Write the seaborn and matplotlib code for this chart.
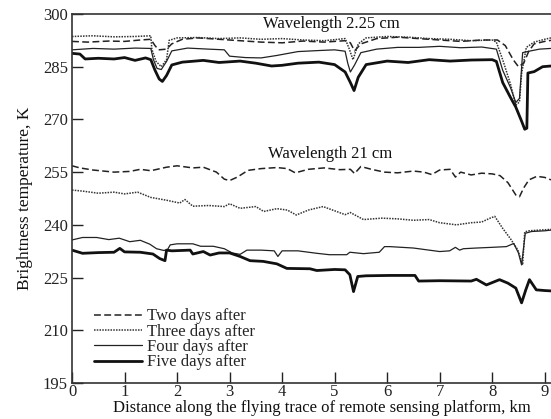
import matplotlib
matplotlib.use("Agg")
import matplotlib.pyplot as plt
import seaborn as sns
import pandas as pd

# ---- brightness temperature traces, wavelength 2.25 cm ----
two_225_x = [0, 0.3, 0.7, 1.0, 1.3, 1.5, 1.58, 1.65, 1.8, 1.9, 2.1, 2.4, 2.8, 3.2, 3.6, 4.0, 4.4,
             4.8, 5.2, 5.3, 5.38, 5.5, 5.8, 6.2, 6.6, 7.0, 7.4, 7.8, 8.1, 8.25, 8.4, 8.5, 8.6,
             8.7, 8.8, 9.0, 9.12]
two_225_y = [292.2, 292.0, 292.3, 292.2, 292.6, 292.8, 291.0, 289.8, 290.0, 291.5, 292.8, 293.2,
             292.8, 292.4, 292.0, 291.8, 292.3, 292.0, 292.4, 291.8, 289.5, 291.5, 293.0, 293.4,
             293.0, 292.6, 292.2, 292.6, 292.6, 291.0, 287.0, 285.0, 286.0, 289.5, 291.5, 292.2,
             292.5]

three_225_x = [0, 0.4, 0.8, 1.2, 1.5, 1.52, 1.6, 1.7, 1.8, 1.85, 2.0, 2.4, 2.8, 3.2, 3.6, 4.0,
               4.4, 4.8, 5.2, 5.28, 5.35, 5.45, 5.6, 6.0, 6.4, 6.8, 7.2, 7.6, 8.0, 8.08, 8.2,
               8.35, 8.45, 8.52, 8.56, 8.65, 8.8, 9.0, 9.12]
three_225_y = [293.6, 293.8, 293.5, 293.6, 293.8, 290.0, 286.5, 285.0, 287.0, 292.5, 293.2, 293.3,
               293.0, 293.2, 292.8, 293.0, 292.6, 292.4, 293.0, 290.0, 287.0, 291.5, 293.2, 293.6,
               293.4, 293.0, 292.8, 292.4, 292.6, 292.0, 287.0, 280.0, 274.0, 275.0, 283.0,
               290.5, 292.0, 292.8, 293.2]

four_225_x = [0, 0.4, 0.8, 1.2, 1.5, 1.55, 1.62, 1.7, 1.8, 1.9, 2.2, 2.6, 2.9, 3.0, 3.3, 3.6,
              3.9, 4.3, 4.7, 5.0, 5.2, 5.25, 5.3, 5.38, 5.5, 5.8, 6.2, 6.6, 7.0, 7.4, 7.8, 8.08,
              8.2, 8.35, 8.45, 8.52, 8.58, 8.7, 8.9, 9.12]
four_225_y = [289.8, 290.2, 290.0, 290.3, 290.2, 287.0, 284.5, 284.2, 286.5, 289.5, 290.3, 290.0,
              289.8, 288.0, 287.6, 287.5, 288.2, 289.3, 289.6, 289.8, 289.4, 286.0, 283.5, 285.5,
              289.0, 290.0, 290.5, 290.5, 290.8, 290.4, 290.6, 290.0, 284.0, 279.0, 274.8,
              276.0, 289.0, 289.4, 290.0, 290.2]

five_225_x = [0, 0.15, 0.25, 0.5, 0.8, 1.0, 1.2, 1.4, 1.5, 1.58, 1.66, 1.72, 1.8, 1.9, 2.1,
              2.5, 2.8, 3.2, 3.5, 3.8, 4.0, 4.3, 4.7, 5.0, 5.2, 5.3, 5.37, 5.45, 5.6, 6.0, 6.4,
              6.8, 7.2, 7.6, 8.0, 8.08, 8.2, 8.34, 8.45, 8.56, 8.62, 8.66, 8.68, 8.8, 8.96, 9.12]
five_225_y = [288.8, 288.6, 287.2, 287.4, 287.2, 287.6, 286.8, 287.5, 287.0, 284.0, 281.5, 280.8,
              282.5, 285.5, 286.3, 286.8, 286.2, 286.6, 286.0, 285.2, 285.4, 286.0, 286.3, 285.6,
              283.5, 280.5, 278.2, 282.0, 285.6, 286.6, 286.2, 287.0, 286.6, 286.9, 287.0,
              286.5, 280.5, 276.5, 273.5, 269.5, 267.2, 267.5, 283.2, 283.6, 285.0, 285.2]

# ---- brightness temperature traces, wavelength 21 cm ----
two_21_x = [0, 0.15, 0.4, 0.8, 1.1, 1.3, 1.5, 1.8, 2.0, 2.3, 2.5, 2.75, 2.9, 3.0, 3.15, 3.35,
            3.6, 3.9, 4.1, 4.25, 4.5, 4.8, 5.1, 5.3, 5.38, 5.5, 5.7, 5.95, 6.2, 6.5, 6.7, 6.85,
            7.0, 7.2, 7.3, 7.4, 7.6, 7.8, 8.0, 8.15, 8.3, 8.45, 8.52, 8.6, 8.7, 8.85, 9.0, 9.12]
two_21_y = [256.8, 256.2, 255.6, 255.0, 255.2, 255.8, 255.4, 256.4, 256.8, 256.2, 256.4, 255.0,
            253.0, 252.6, 253.6, 255.5, 256.0, 256.3, 256.0, 254.8, 255.8, 256.2, 255.7, 255.8,
            254.6, 256.6, 255.8, 255.0, 254.8, 255.3, 255.0, 254.3, 255.6, 255.8, 253.6, 255.0,
            254.2, 254.7, 254.5, 254.0, 252.0, 248.5, 248.0, 250.5, 252.8, 253.8, 253.5, 252.8]

three_21_x = [0, 0.2, 0.5, 0.8, 1.0, 1.25, 1.5, 1.8, 2.05, 2.15, 2.3, 2.6, 2.9, 3.0, 3.2, 3.5,
              3.65, 3.9, 4.1, 4.27, 4.5, 4.78, 5.0, 5.2, 5.3, 5.55, 5.9, 6.2, 6.5, 6.8, 7.0,
              7.32, 7.6, 7.8, 7.96, 8.05, 8.2, 8.35, 8.49, 8.58, 8.62, 8.7, 8.9, 9.12]
three_21_y = [249.9, 249.6, 249.0, 249.3, 248.8, 249.3, 247.8, 247.0, 246.2, 247.2, 245.3, 245.5,
              245.2, 246.0, 244.7, 245.2, 243.8, 244.6, 244.2, 242.8, 244.2, 245.2, 244.0, 242.9,
              243.5, 241.5, 241.9, 241.7, 241.3, 241.5, 240.6, 240.0, 240.6, 240.8, 241.9, 242.4,
              239.0, 236.0, 232.8, 228.6, 238.0, 238.3, 238.5, 238.7]

four_21_x = [0, 0.2, 0.47, 0.7, 0.9, 1.1, 1.3, 1.48, 1.61, 1.75, 1.82, 1.87, 2.0, 2.3, 2.45,
             2.69, 2.9, 3.05, 3.2, 3.33, 3.6, 3.85, 3.92, 4.0, 4.3, 4.66, 4.9, 5.23, 5.29, 5.55,
             5.85, 5.95, 6.05, 6.5, 7.0, 7.19, 7.3, 7.38, 7.45, 7.7, 8.0, 8.27, 8.41, 8.5, 8.56,
             8.63, 8.75, 9.0, 9.12]
four_21_y = [235.7, 236.4, 236.4, 235.8, 236.2, 235.2, 235.6, 234.5, 233.2, 232.7, 233.0, 234.3,
             234.6, 234.6, 233.9, 233.9, 233.2, 232.0, 231.6, 232.8, 232.8, 232.6, 231.0, 232.6,
             232.6, 231.9, 231.5, 231.5, 232.2, 231.8, 232.2, 233.8, 233.8, 233.4, 232.4, 232.6,
             233.6, 232.8, 233.2, 233.4, 233.6, 233.8, 234.7, 232.0, 228.6, 237.6, 238.1, 238.3,
             238.5]

five_21_x = [0, 0.2, 0.5, 0.8, 0.91, 1.0, 1.3, 1.54, 1.67, 1.77, 1.8, 1.9, 2.25, 2.3, 2.5,
             2.63, 2.8, 3.0, 3.2, 3.39, 3.64, 3.9, 4.09, 4.53, 4.66, 5.0, 5.2, 5.29, 5.36, 5.44,
             5.6, 6.05, 6.53, 6.6, 7.0, 7.6, 7.7, 7.89, 8.14, 8.3, 8.45, 8.56, 8.64, 8.71, 8.84,
             9.0, 9.12]
five_21_y = [232.8, 231.9, 232.1, 232.2, 233.3, 232.3, 232.2, 231.7, 230.4, 229.8, 232.8, 232.6,
             232.8, 231.7, 232.4, 231.4, 232.0, 232.0, 231.0, 229.8, 229.6, 228.9, 227.6, 227.5,
             227.0, 227.3, 227.2, 225.8, 221.0, 225.3, 225.5, 225.6, 225.6, 224.0, 224.1, 224.0,
             224.5, 222.9, 224.4, 223.4, 222.0, 217.8, 221.5, 224.4, 221.5, 221.3, 221.2]

series_labels = ["Two days after", "Three days after", "Four days after", "Five days after"]
y_ticks = [195, 210, 225, 240, 255, 270, 285, 300]
x_ticks = [0, 1, 2, 3, 4, 5, 6, 7, 8, 9]

traces = {
    "Two days after": [(two_225_x, two_225_y), (two_21_x, two_21_y)],
    "Three days after": [(three_225_x, three_225_y), (three_21_x, three_21_y)],
    "Four days after": [(four_225_x, four_225_y), (four_21_x, four_21_y)],
    "Five days after": [(five_225_x, five_225_y), (five_21_x, five_21_y)],
}

styles = {
    "Two days after": dict(color="#222222", linewidth=1.1, linestyle=(0, (4.5, 2.2))),
    "Three days after": dict(color="#333333", linewidth=1.1, linestyle=(0, (1, 0.8))),
    "Four days after": dict(color="#222222", linewidth=0.9, linestyle="-"),
    "Five days after": dict(color="#111111", linewidth=2.0, linestyle="-"),
}

sns.set_style("ticks")
plt.rcParams["font.family"] = ["Liberation Serif", "DejaVu Serif"]

fig = plt.figure(figsize=(5.51, 4.19), dpi=100)
ax = fig.add_axes([0.1307, 0.086, 0.8693, 0.8806])

for label in series_labels:
    for i, (xs, ys) in enumerate(traces[label]):
        df = pd.DataFrame({"distance": xs, "temperature": ys})
        sns.lineplot(data=df, x="distance", y="temperature", ax=ax, estimator=None,
                     sort=False, label=label if i == 0 else None, **styles[label])

ax.set_xlim(0, 9.12)
ax.set_ylim(195, 300)
ax.set_xticks(x_ticks)
ax.set_yticks(y_ticks)
ax.tick_params(direction="in", length=8, width=1.0, labelsize=12, colors="#222222")
ax.tick_params(axis="x", pad=1)
ax.tick_params(axis="y", pad=3)
for side in ["left", "bottom", "top"]:
    ax.spines[side].set_linewidth(1.2)
    ax.spines[side].set_color("#333333")
ax.spines["right"].set_visible(False)

ax.set_xlabel("Distance along the flying trace of remote sensing platform, km",
              fontsize=12, labelpad=0, color="#111111")
ax.xaxis.label.set_x(0.522)
ax.set_ylabel("Brightness temperature, K", fontsize=12.5, labelpad=7, color="#111111")

ax.text(4.93, 297.2, "Wavelength 2.25 cm", fontsize=12, ha="center", va="center", color="#111111")
ax.text(4.92, 260.2, "Wavelength 21 cm", fontsize=12, ha="center", va="center", color="#111111")

leg = ax.legend(loc="lower left", bbox_to_anchor=(0.031, 0.016), frameon=False, fontsize=12,
                handlelength=2.9, handletextpad=0.3, labelspacing=-0.04, borderaxespad=0)

fig.savefig("out.png", dpi=100)
